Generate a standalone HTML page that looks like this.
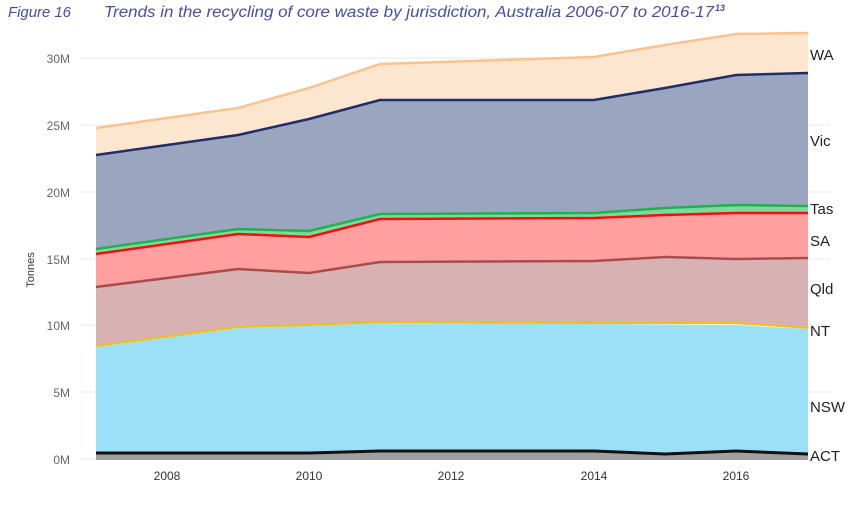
<!DOCTYPE html>
<html><head><style>
body{margin:0;width:864px;height:520px;background:#fff;overflow:hidden}
svg{display:block}
</style></head><body>
<svg width="864" height="520" xmlns="http://www.w3.org/2000/svg" font-family="Liberation Sans, sans-serif">
<text x="8" y="17" font-size="15" font-style="italic" fill="#4b4ba8" textLength="63">Figure 16</text>
<text x="104" y="17" font-size="15.5" font-style="italic" fill="#4b4ba8" textLength="610" lengthAdjust="spacingAndGlyphs">Trends in the recycling of core waste by jurisdiction, Australia 2006-07 to 2016-17</text>
<text x="715" y="11" font-size="9" font-style="italic" font-weight="bold" fill="#4b4ba8">13</text>
<g stroke="#e8e8e8" stroke-width="1">
<line x1="80" x2="830" y1="58" y2="58"/><line x1="80" x2="830" y1="125" y2="125"/><line x1="80" x2="830" y1="192" y2="192"/><line x1="80" x2="830" y1="259" y2="259"/><line x1="80" x2="830" y1="325" y2="325"/><line x1="80" x2="830" y1="392" y2="392"/><line x1="80" x2="830" y1="459" y2="459"/>
</g>
<g font-size="12" fill="#666" text-anchor="end">
<text x="70" y="63">30M</text><text x="70" y="130">25M</text><text x="70" y="197">20M</text><text x="70" y="264">15M</text><text x="70" y="330">10M</text><text x="70" y="397">5M</text><text x="70" y="464">0M</text>
</g>
<text transform="translate(34,270) rotate(-90)" font-size="11" fill="#333" text-anchor="middle">Tonnes</text>
<polygon fill="#fde6cf" points="96,128 238,108 309,88 380,64 594,57 665,45 736,34 808,33 808,73 736,75 665,88 594,100 380,100 309,119 238,135 96,155"/>
<polyline fill="none" stroke="#f9c38e" stroke-width="2.5" points="96,128 238,108 309,88 380,64 594,57 665,45 736,34 808,33"/>
<polygon fill="#9aa6bf" points="96,155 238,135 309,119 380,100 594,100 665,88 736,75 808,73 808,206 736,205 665,208 594,213 380,214 309,231 238,229 96,249"/>
<polyline fill="none" stroke="#1f2d6a" stroke-width="2.5" points="96,155 238,135 309,119 380,100 594,100 665,88 736,75 808,73"/>
<polygon fill="#7fd89e" points="96,249 238,229 309,231 380,214 594,213 665,208 736,205 808,206 808,213 736,213 665,215 594,218 380,219 309,237 238,234 96,254"/>
<polyline fill="none" stroke="#22b14c" stroke-width="2.5" points="96,249 238,229 309,231 380,214 594,213 665,208 736,205 808,206"/>
<polygon fill="#ff9f9f" points="96,254 238,234 309,237 380,219 594,218 665,215 736,213 808,213 808,258 736,259 665,257 594,261 380,262 309,273 238,269 96,287"/>
<polyline fill="none" stroke="#f01010" stroke-width="2.5" points="96,254 238,234 309,237 380,219 594,218 665,215 736,213 808,213"/>
<polygon fill="#d8b2b2" points="96,287 238,269 309,273 380,262 594,261 665,257 736,259 808,258 808,327 736,323 594,323 380,322 309,325 238,327 96,346"/>
<polyline fill="none" stroke="#a94c4c" stroke-width="2.5" points="96,287 238,269 309,273 380,262 594,261 665,257 736,259 808,258"/>
<polygon fill="#9ce0f7" points="96,347 238,328 309,326 380,323 594,324 736,325 808,329 808,454 736,451 665,454 594,451 380,451 309,453 96,453"/>
<polyline fill="none" stroke="#f2c010" stroke-width="2" points="96,346 238,327 309,325 380,322 594,323 736,323 808,328"/>
<polygon fill="#a0a0a0" points="96,453 309,453 380,451 594,451 665,454 736,451 808,454 808,460 96,460"/>
<polyline fill="none" stroke="#111" stroke-width="3" points="96,453 309,453 380,451 594,451 665,454 736,451 808,454"/>
<g font-size="12" fill="#333" text-anchor="middle">
<text x="167" y="480">2008</text><text x="309" y="480">2010</text><text x="451" y="480">2012</text><text x="594" y="480">2014</text><text x="736" y="480">2016</text>
</g>
<g font-size="15" fill="#222">
<text x="810" y="60">WA</text><text x="810" y="146">Vic</text><text x="810" y="214">Tas</text><text x="810" y="246">SA</text><text x="810" y="294">Qld</text><text x="810" y="336">NT</text><text x="810" y="412">NSW</text><text x="810" y="461">ACT</text>
</g>
</svg>
</body></html>
